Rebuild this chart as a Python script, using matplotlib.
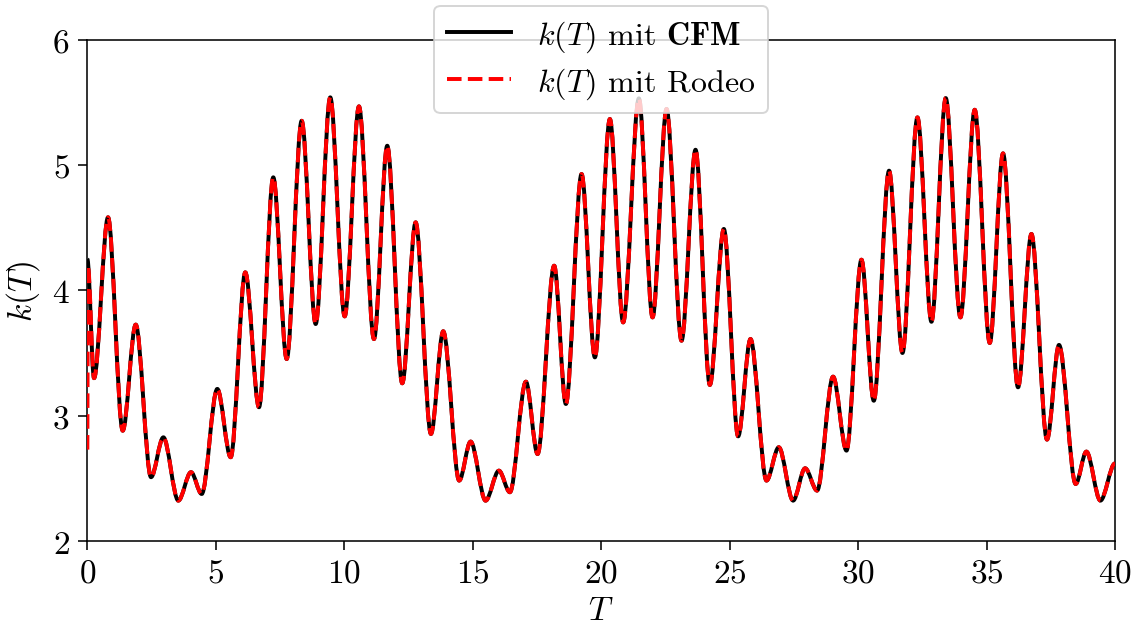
import matplotlib
matplotlib.use('Agg')
import matplotlib.pyplot as plt
from matplotlib.path import Path
from matplotlib.patches import PathPatch
from matplotlib.lines import Line2D

plt.rcParams['font.family'] = 'serif'
plt.rcParams['font.serif'] = ['cmr10']
plt.rcParams['mathtext.fontset'] = 'cm'
plt.rcParams['axes.formatter.use_mathtext'] = True
plt.rcParams['font.size'] = 17

# Extrema of k(T) (T, k)
T_ext = [0.0, 0.26, 0.805, 1.377, 1.883, 2.479, 2.958, 3.541, 4.035, 4.451,
         5.058, 5.58, 6.148, 6.681, 7.237, 7.759, 8.342, 8.887, 9.455, 10.016,
         10.572, 11.156, 11.673, 12.257, 12.778, 13.374, 13.852, 14.475, 14.918, 15.502,
         16.019, 16.447, 17.07, 17.525, 18.17, 18.626, 19.237, 19.755, 20.339, 20.856,
         21.467, 22.0, 22.545, 23.128, 23.673, 24.23, 24.774, 25.331, 25.813, 26.436,
         26.914, 27.471, 27.938, 28.405, 29.027, 29.549, 30.132, 30.611, 31.206, 31.727,
         32.311, 32.856, 33.412, 33.984, 34.541, 35.125, 35.642, 36.226, 36.747, 37.354,
         37.821, 38.47, 38.887, 39.432, 40.0]
k_ext = [4.25, 3.30, 4.583, 2.881, 3.727, 2.51, 2.828, 2.323, 2.55, 2.376,
         3.214, 2.669, 4.144, 3.068, 4.902, 3.453, 5.353, 3.732, 5.54, 3.793,
         5.468, 3.612, 5.154, 3.259, 4.543, 2.855, 3.674, 2.483, 2.794, 2.323,
         2.562, 2.39, 3.272, 2.695, 4.197, 3.094, 4.928, 3.466, 5.367, 3.745,
         5.532, 3.785, 5.447, 3.599, 5.122, 3.246, 4.49, 2.836, 3.612, 2.483,
         2.749, 2.323, 2.581, 2.403, 3.312, 2.722, 4.245, 3.12, 4.955, 3.501,
         5.38, 3.75, 5.534, 3.785, 5.441, 3.581, 5.093, 3.227, 4.45, 2.81,
         3.565, 2.456, 2.714, 2.323, 2.62]

# Rodeo starts lower at T=0 and joins the CFM curve right away
T_rodeo = [0.0, 0.02] + T_ext[1:]
k_rodeo = [2.73, 4.2] + k_ext[1:]


def smooth_path(xs, ys):
    # cubic Bezier segments with flat tangents at each read point
    verts = [(xs[0], ys[0])]
    codes = [Path.MOVETO]
    for x0, y0, x1, y1 in zip(xs[:-1], ys[:-1], xs[1:], ys[1:]):
        dx = x1 - x0
        verts += [(x0 + dx / 3, y0), (x1 - dx / 3, y1), (x1, y1)]
        codes += [Path.CURVE4] * 3
    return Path(verts, codes)


fig = plt.figure(figsize=(8, 4.42), dpi=141.625)
ax = fig.add_axes([0.0771, 0.134, 0.907, 0.801])

ax.add_patch(PathPatch(smooth_path(T_ext, k_ext), fill=False, edgecolor='black',
                       lw=2, ls='-', joinstyle='round', zorder=2))
ax.add_patch(PathPatch(smooth_path(T_rodeo, k_rodeo), fill=False, edgecolor='red',
                       lw=2, ls='--', joinstyle='round', zorder=3))

ax.set_xlim(0, 40)
ax.set_ylim(2, 6)
ax.set_xticks(range(0, 41, 5))
ax.set_yticks(range(2, 7))
ax.tick_params(length=4.5, pad=4.5)
ax.set_xlabel('$T$', labelpad=4)
ax.set_ylabel('$k(T)$', labelpad=5)

handles = [Line2D([], [], color='black', lw=2, ls='-'),
           Line2D([], [], color='red', lw=2, ls='--')]
labels = [r'$k(T)$ mit $\mathbf{CFM}$', r'$k(T)$ mit Rodeo']
ax.legend(handles, labels, loc='upper center', bbox_to_anchor=(0.5, 1.10),
          fontsize=16.3, labelspacing=0.35)

fig.savefig('out.png', dpi=141.625)
